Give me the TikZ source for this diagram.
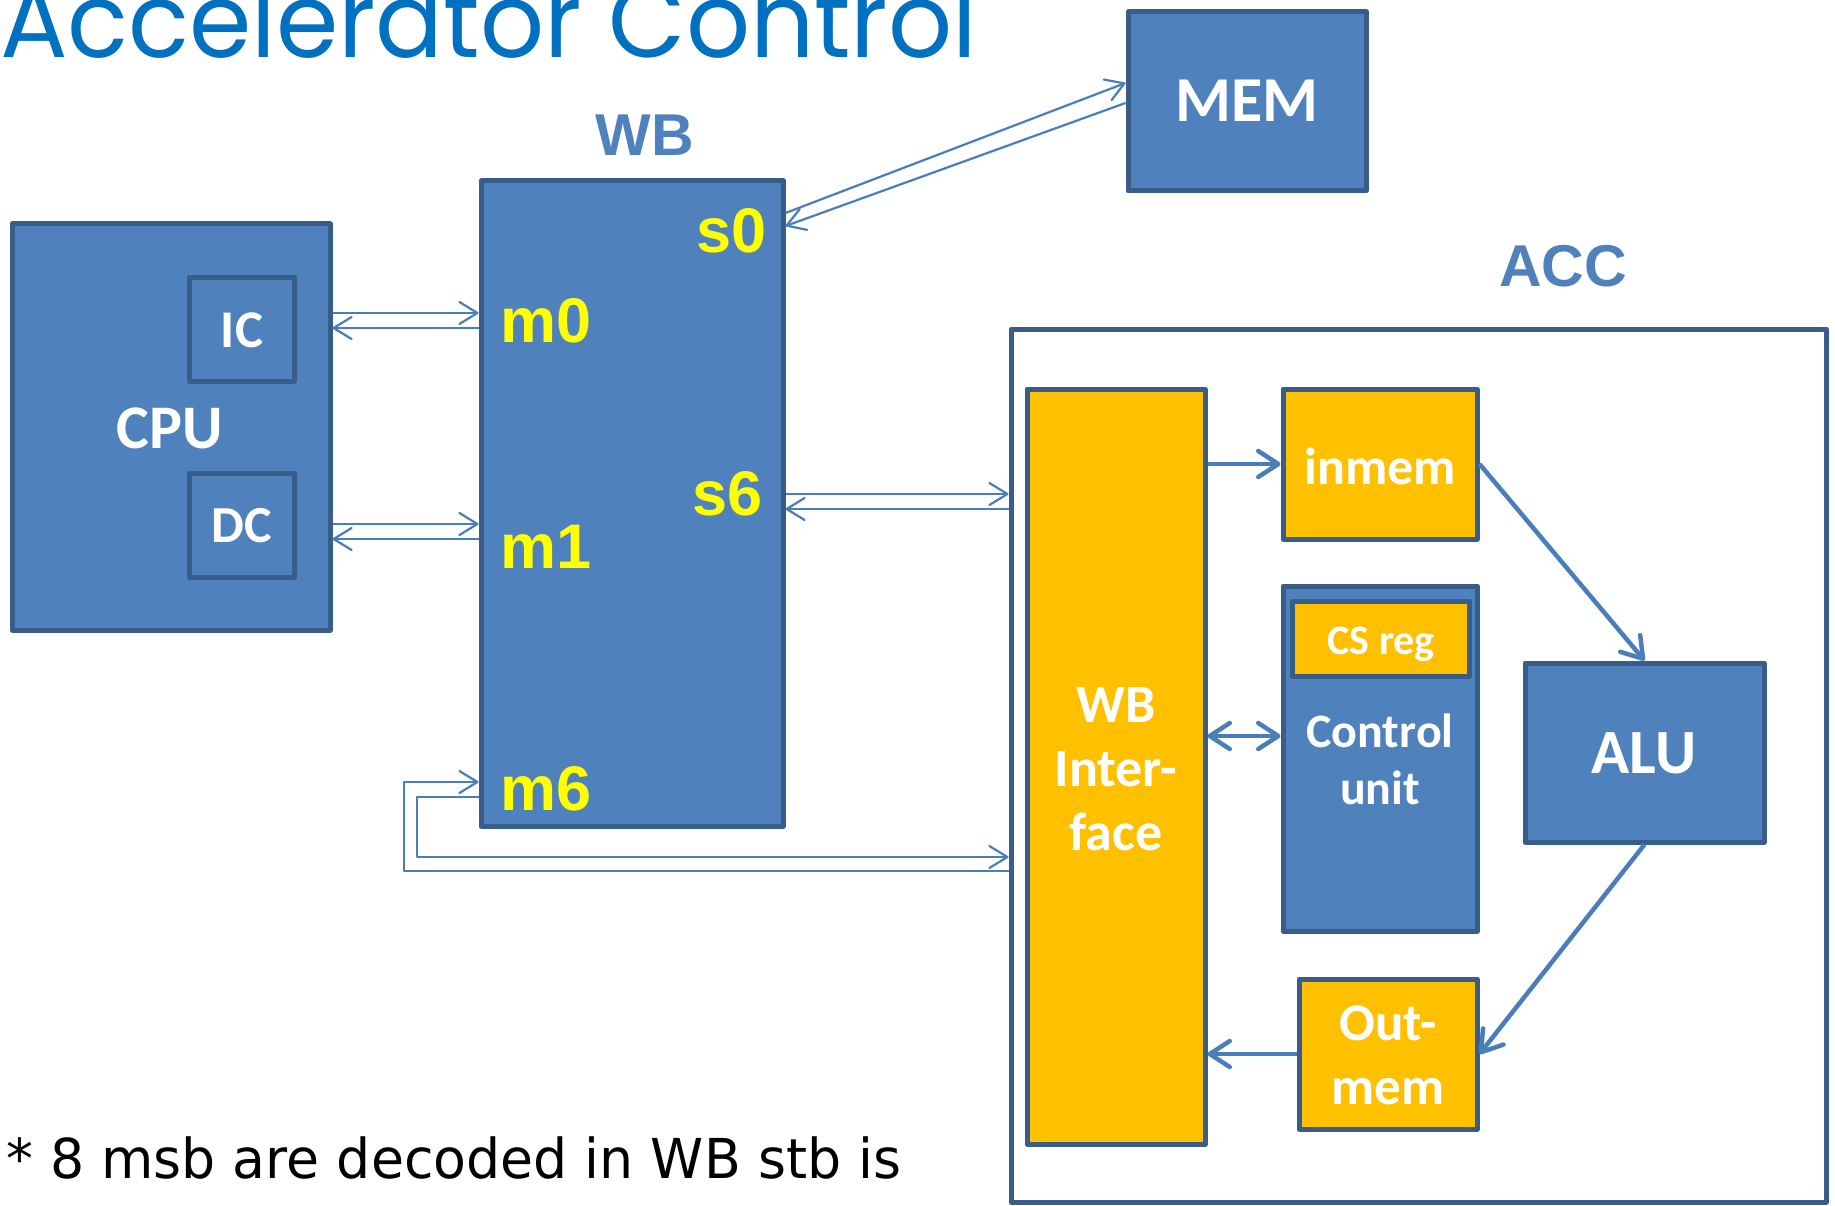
\documentclass[tikz,border=0pt]{standalone}
\usepackage{fontspec}
\usepackage{graphicx}
\setmainfont{Carlito}
\newfontfamily\arialf{Liberation Sans}
\newfontfamily\titlef{Poppins}
\newfontfamily\verdf{DejaVu Sans}
\usetikzlibrary{arrows.meta}
\definecolor{boxblue}{HTML}{4F81BD}
\definecolor{bord}{HTML}{385D8A}
\definecolor{orng}{HTML}{FFC000}
\definecolor{lnblue}{HTML}{4A7EBB}
\definecolor{titleblue}{HTML}{0070C0}
\definecolor{ylw}{HTML}{FFFF00}
\newcommand\fsz[1]{\fontsize{#1pt}{#1pt}\selectfont}
\begin{document}
\begin{tikzpicture}[x=1pt,y=-1pt,
  box/.style={draw=bord,line width=5pt,fill=boxblue,inner sep=0pt,rectangle,line join=round},
  obox/.style={box,fill=orng},
  wbox/.style={box,fill=white},
  lab/.style={inner sep=0pt,anchor=base,text=white,font=\bfseries},
  portlab/.style={inner sep=0pt,text=ylw,font=\arialf\bfseries\fsz{63}},
  headlab/.style={inner sep=0pt,anchor=base,text=boxblue,font=\arialf\bfseries\fsz{59}},
  conn/.style={draw=lnblue,line width=2.2pt,line join=round,-{Straight Barb[length=18pt,width=22pt,round]}},
  tconn/.style={draw=lnblue,line width=4.5pt,-{Straight Barb[length=20pt,width=26pt,round]}},
  tdconn/.style={draw=lnblue,line width=4.5pt,{Straight Barb[length=20pt,width=26pt,round]}-{Straight Barb[length=20pt,width=26pt,round]}},
]
\useasboundingbox[fill=white] (0,0) rectangle (1835,1206);

% title
\node[anchor=base west,inner sep=0pt,text=titleblue] (title) at (0,58)
  {\resizebox{977pt}{\height}{\titlef\fsz{104}Accelerator Control}};

% CPU
\node[box,minimum width=318pt,minimum height=406pt] (CPU) at (171,427) {};
\node[box,minimum width=105pt,minimum height=104pt] (IC) at (241.5,329) {};
\node[box,minimum width=105pt,minimum height=104pt] (DC) at (241.5,525) {};
\node[lab,font=\bfseries\fsz{62}] (cpuL) at (170,448) {CPU};
\node[lab,font=\bfseries\fsz{53}] (icL) at (242,347) {IC};
\node[lab,font=\bfseries\fsz{52}] (dcL) at (242,542) {DC};

% WB
\node[box,minimum width=302pt,minimum height=645pt] (WB) at (632,503.5) {};
\node[headlab] (wbL) at (645,156) {WB};
\node[portlab,anchor=base east] (s0) at (767,252) {s0};
\node[portlab,anchor=base west] (m0) at (500,342) {m0};
\node[portlab,anchor=base east] (s6) at (763,515) {s6};
\node[portlab,anchor=base west] (m1) at (500,568) {m1};
\node[portlab,anchor=base west] (m6) at (500,810) {m6};

% MEM
\node[box,minimum width=238pt,minimum height=179pt] (MEM) at (1247,101.5) {};
\node[lab,font=\bfseries\fsz{64}] (memL) at (1247,122) {MEM};

% ACC
\node[headlab] (accL) at (1563,286) {ACC};
\node[wbox,minimum width=815pt,minimum height=873pt] (ACC) at (1418.5,765.5) {};
\node[obox,minimum width=178pt,minimum height=755pt] (WBI) at (1116,766.5) {};
\node[lab,font=\bfseries\fsz{54}] (wbi1) at (1116,722) {WB};
\node[lab,font=\bfseries\fsz{54}] (wbi2) at (1116,786) {Inter-};
\node[lab,font=\bfseries\fsz{54}] (wbi3) at (1116,850) {face};

\node[obox,minimum width=194pt,minimum height=150pt] (inmem) at (1380,464) {};
\node[lab,font=\bfseries\fsz{52}] (inmemL) at (1380,484) {inmem};

\node[box,minimum width=194pt,minimum height=345pt] (CU) at (1380,758.5) {};
\node[obox,minimum width=177pt,minimum height=75pt] (CS) at (1380.5,638.5) {};
\node[lab,font=\bfseries\fsz{42}] (csL) at (1381,654) {CS reg};
\node[lab,font=\bfseries\fsz{48}] (cu1) at (1380,747) {Control};
\node[lab,font=\bfseries\fsz{48}] (cu2) at (1380,804) {unit};

\node[box,minimum width=239pt,minimum height=179pt] (ALU) at (1644.5,752.5) {};
\node[lab,font=\bfseries\fsz{63}] (aluL) at (1644,773) {ALU};

\node[obox,minimum width=178pt,minimum height=150pt] (OM) at (1388,1054) {};
\node[lab,font=\bfseries\fsz{53}] (om1) at (1388,1040) {Out-};
\node[lab,font=\bfseries\fsz{53}] (om2) at (1388,1104) {mem};

% note
\node[anchor=base west,inner sep=0pt] (note) at (6,1178)
  {\resizebox{895pt}{\height}{\verdf\fsz{55}* 8 msb are decoded in WB stb is}};

% thin connectors
\draw[conn] (CPU.east |- 0,313) -- (WB.west |- 0,313);
\draw[conn] (WB.west |- 0,328) -- (CPU.east |- 0,328);
\draw[conn] (CPU.east |- 0,524) -- (WB.west |- 0,524);
\draw[conn] (WB.west |- 0,539) -- (CPU.east |- 0,539);
\draw[conn] (WB.east |- 0,213) -- (MEM.west |- 0,83);
\draw[conn] (MEM.west |- 0,103) -- (WB.east |- 0,226);
\draw[conn] (WB.east |- 0,494) -- (ACC.west |- 0,494);
\draw[conn] (ACC.west |- 0,509) -- (WB.east |- 0,509);
\draw[conn] (ACC.west |- 0,871) -- (404,871) -- (404,782) -- (WB.west |- 0,782);
\draw[conn] (WB.west |- 0,797) -- (417,797) -- (417,857) -- (ACC.west |- 0,857);

% thick connectors
\draw[tconn] (WBI.east |- inmem.west) -- (inmem.west);
\draw[tdconn] (WBI.east |- 0,736) -- (CU.west |- 0,736);
\draw[tconn] (OM.west) -- (WBI.east |- OM.west);
\draw[tconn] (inmem.east) -- (ALU.north);
\draw[tconn] (ALU.south) -- (OM.east);
\end{tikzpicture}
\end{document}
